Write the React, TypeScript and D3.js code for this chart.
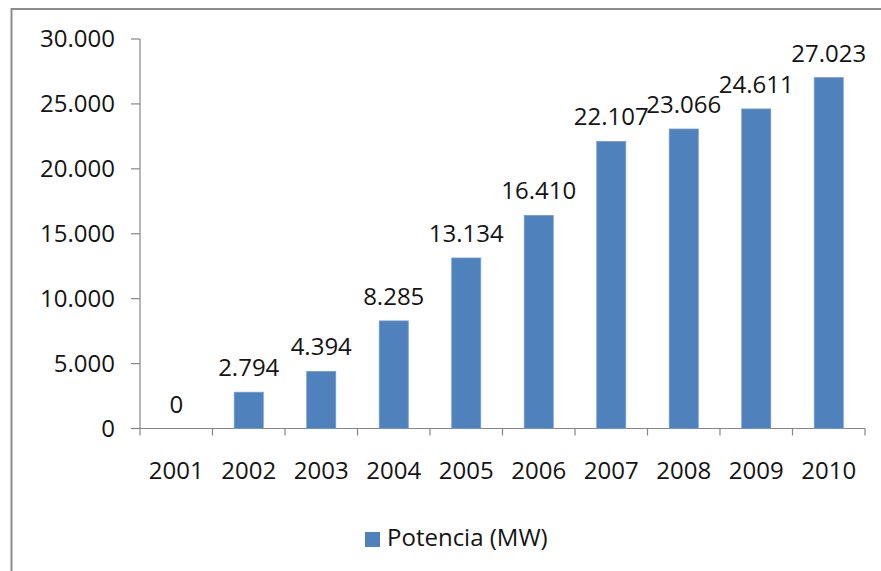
import React from "react";
import * as d3 from "d3";

const years = ["2001", "2002", "2003", "2004", "2005", "2006", "2007", "2008", "2009", "2010"];
const potencia = [0, 2794, 4394, 8285, 13134, 16410, 22107, 23066, 24611, 27023];
const yTicks = [0, 5000, 10000, 15000, 20000, 25000, 30000];
const seriesName = "Potencia (MW)";

const W = 881;
const H = 571;
const FONT = "'Open Sans', 'Noto Sans', sans-serif";
const fmt = (v: number) => d3.format(",")(v).replace(/,/g, ".");

export default function App() {
  const left = 140;
  const right = 865;
  const top = 39;
  const bottom = 428.5;
  const x = d3.scaleBand<string>().domain(years).range([left, right]).paddingInner(0.6).paddingOuter(0.3);
  const xc = d3.scaleBand<string>().domain(years).range([left, right]);
  const y = d3.scaleLinear().domain([0, 30000]).range([bottom, top]);
  const color = "#4F81BD";
  const axisColor = "#868686";
  const textColor = "#141414";

  return (
    <svg width={W} height={H} style={{ position: "absolute", left: 0, top: 0, background: "#fff" }}>
      <rect x={0} y={0} width={W} height={H} fill="#fff" />
      {/* chart border (extends past the visible area) */}
      <rect x={11.5} y={9} width={W + 20} height={H + 20} fill="none" stroke="#8c8c8c" strokeWidth={2} />
      {/* y axis */}
      <line x1={left} x2={left} y1={top} y2={bottom} stroke={axisColor} strokeWidth={1.2} />
      {yTicks.map((t) => (
        <g key={t}>
          <line x1={left - 9} x2={left} y1={y(t)} y2={y(t)} stroke={axisColor} strokeWidth={1.2} />
          <text x={115} y={y(t)} dy="0.35em" textAnchor="end" fontFamily={FONT} fontSize={24} fill={textColor}>
            {fmt(t)}
          </text>
        </g>
      ))}
      {/* x axis */}
      <line x1={left} x2={right} y1={bottom} y2={bottom} stroke={axisColor} strokeWidth={1.2} />
      {[...years.map((c) => xc(c) as number), right].map((px, i) => (
        <line key={i} x1={px} x2={px} y1={bottom} y2={bottom + 7} stroke={axisColor} strokeWidth={1.2} />
      ))}
      {years.map((c) => (
        <text
          key={c}
          x={(xc(c) as number) + xc.bandwidth() / 2}
          y={479}
          textAnchor="middle"
          fontFamily={FONT}
          fontSize={24}
          fill={textColor}
        >
          {c}
        </text>
      ))}
      {/* bars */}
      {years.map((c, i) => (
        <rect
          key={c}
          x={x(c)}
          y={y(potencia[i])}
          width={x.bandwidth()}
          height={bottom - y(potencia[i])}
          fill={color}
          stroke="#6e9ad0"
          strokeWidth={potencia[i] > 0 ? 0.8 : 0}
        />
      ))}
      {/* data labels */}
      {years.map((c, i) => (
        <text
          key={c}
          x={(x(c) as number) + x.bandwidth() / 2}
          y={y(potencia[i]) - 16}
          textAnchor="middle"
          fontFamily={FONT}
          fontSize={24}
          fill={textColor}
        >
          {fmt(potencia[i])}
        </text>
      ))}
      {/* legend */}
      <rect x={365} y={532} width={15} height={15} fill={color} />
      <text x={387} y={546} fontFamily={FONT} fontSize={24} fill={textColor}>
        {seriesName}
      </text>
    </svg>
  );
}
